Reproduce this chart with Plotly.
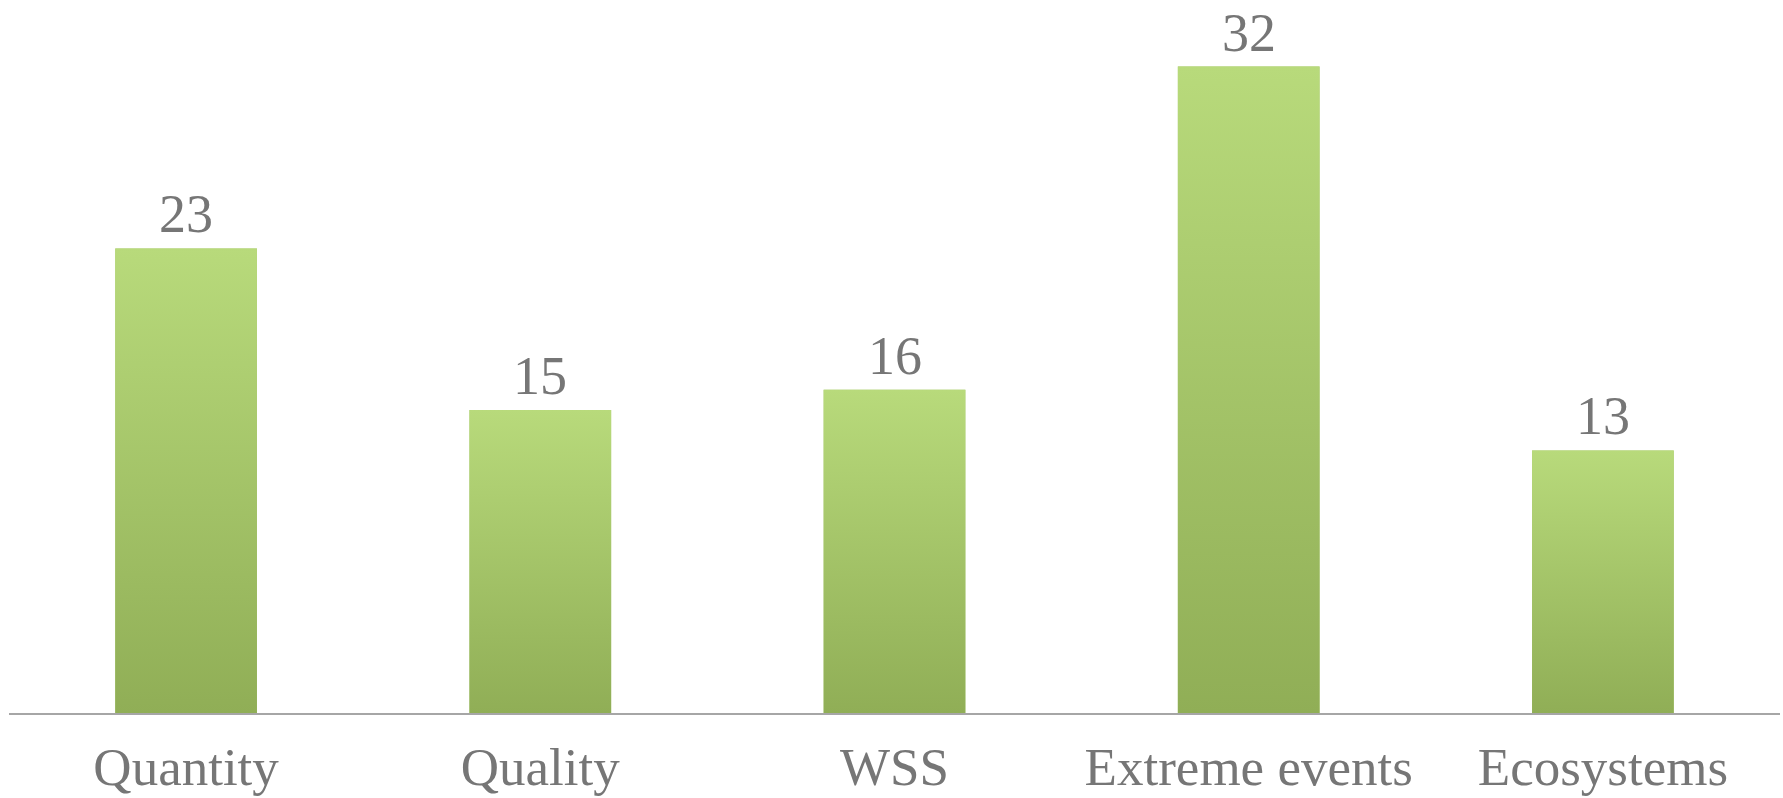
import plotly.graph_objects as go

categories = ["Quantity", "Quality", "WSS", "Extreme events", "Ecosystems"]
values = [23, 15, 16, 32, 13]

BAR_W = 0.4
TEXT_COLOR = "#767676"
FONT = "Liberation Serif"

idx = list(range(len(categories)))

fig = go.Figure()
fig.add_trace(go.Bar(
    x=idx, y=values, width=BAR_W,
    marker=dict(color="#a5c66b", line=dict(width=0)),
    hoverinfo="skip", showlegend=False,
))
# vertical gradient overlay for each bar, built from the same data
for i, v in zip(idx, values):
    fig.add_trace(go.Scatter(
        x=[i - BAR_W / 2, i + BAR_W / 2, i + BAR_W / 2, i - BAR_W / 2, i - BAR_W / 2],
        y=[0, 0, v, v, 0],
        mode="lines", line=dict(width=0), fill="toself",
        fillgradient=dict(type="vertical",
                          colorscale=[[0, "#90ae56"], [1, "#b8da7b"]]),
        hoverinfo="skip", showlegend=False,
    ))

for i, v in zip(idx, values):
    fig.add_annotation(
        x=i, y=v, text=str(v), showarrow=False, yanchor="bottom", yshift=2,
        font=dict(family=FONT, size=54, color=TEXT_COLOR),
    )

fig.update_layout(
    width=1783, height=798,
    margin=dict(l=9, r=3, t=6, b=85),
    paper_bgcolor="white", plot_bgcolor="white",
    xaxis=dict(
        range=[-0.5, len(categories) - 0.5],
        tickmode="array", tickvals=idx, ticktext=categories,
        showgrid=False, zeroline=False, showline=True,
        linecolor="#a6a6a6", linewidth=2, ticks="",
        tickfont=dict(family=FONT, size=53, color=TEXT_COLOR),
        ticklabelstandoff=6,
        automargin=False,
    ),
    yaxis=dict(
        range=[0, 35], visible=False, showgrid=False, zeroline=False,
    ),
)

fig.write_html("out.html")
